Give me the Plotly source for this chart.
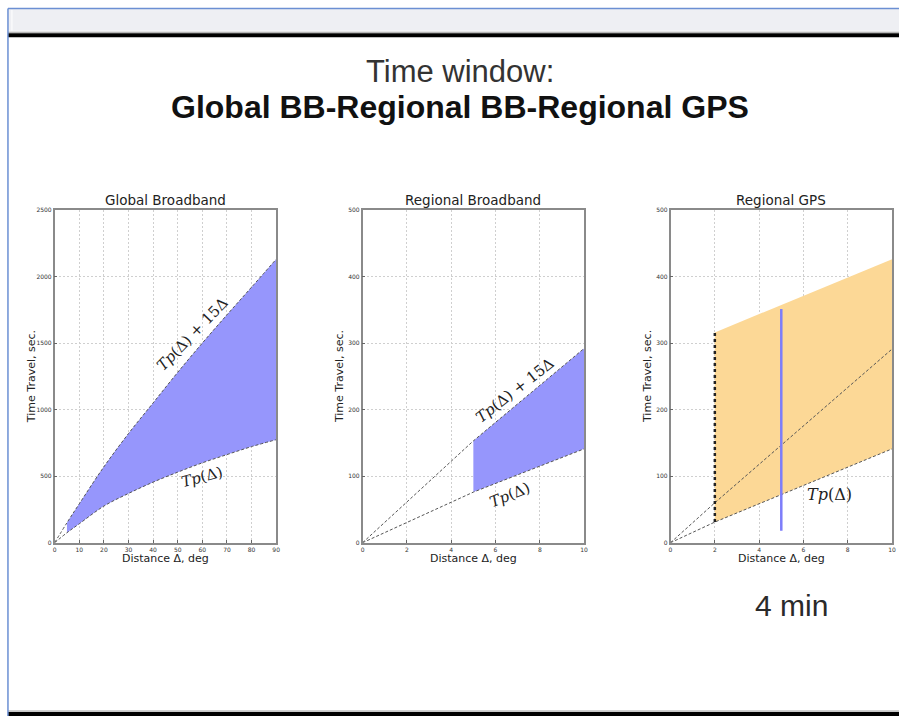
import plotly.graph_objects as go

W, H = 903, 719

# ---------------- data ----------------
# Global Broadband
gb_dist = [0, 5, 10, 20, 30, 40, 50, 60, 70, 80, 90]
gb_tp = [0, 75, 142, 275, 370, 455, 530, 600, 662, 722, 774]
gb_tp15 = [0, 150, 292, 570, 820, 1050, 1280, 1500, 1712, 1920, 2130]
gb_xticks = [0, 10, 20, 30, 40, 50, 60, 70, 80, 90]
gb_yticks = [0, 500, 1000, 1500, 2000, 2500]

# Regional Broadband
rb_dist = [0, 5, 10]
rb_tp = [0, 76, 141]
rb_tp15 = [0, 153, 292]
rb_xticks = [0, 2, 4, 6, 8, 10]
rb_yticks = [0, 100, 200, 300, 400, 500]

# Regional GPS
gps_dist = [0, 2, 10]
gps_tp = [0, 31, 141]
gps_tp15 = [0, 60, 291]
gps_win_dist = [2, 10]
gps_win_low = [31, 141]
gps_win_top = [316, 426]
gps_mark_dist = 5
gps_mark_range = [18, 351]

titles = ["Global Broadband", "Regional Broadband", "Regional GPS"]

# ---------------- layout helpers ----------------
def px(x):
    return x / W

def py(y):
    return 1 - y / H

dom_x = [(53, 276), (363, 586), (673, 896)]
dom_y = (208, 544)

BLUE_FILL = "rgb(150,150,252)"
ORANGE_FILL = "rgb(252,216,150)"
DASH = "3px,2px"

fig = go.Figure()

def ax(i):
    return ("x" if i == 0 else f"x{i+1}", "y" if i == 0 else f"y{i+1}")

# ---- Global Broadband ----
xa, ya = ax(0)
fig.add_trace(go.Scatter(x=gb_dist[1:], y=gb_tp[1:], mode="lines",
                         line=dict(width=0, shape="spline"), showlegend=False,
                         xaxis=xa, yaxis=ya, hoverinfo="skip"))
fig.add_trace(go.Scatter(x=gb_dist[1:], y=gb_tp15[1:], mode="lines", fill="tonexty",
                         fillcolor=BLUE_FILL, line=dict(width=0, shape="spline"),
                         showlegend=False, xaxis=xa, yaxis=ya, hoverinfo="skip"))
for ys in (gb_tp, gb_tp15):
    fig.add_trace(go.Scatter(x=gb_dist, y=ys, mode="lines",
                             line=dict(color="#555", width=1, dash=DASH, shape="spline"),
                             showlegend=False, xaxis=xa, yaxis=ya))

# ---- Regional Broadband ----
xa, ya = ax(1)
fig.add_trace(go.Scatter(x=rb_dist[1:] + rb_dist[1:][::-1],
                         y=rb_tp[1:] + rb_tp15[1:][::-1],
                         mode="lines", fill="toself", fillcolor=BLUE_FILL,
                         line=dict(width=0), showlegend=False, xaxis=xa, yaxis=ya,
                         hoverinfo="skip"))
for ys in (rb_tp, rb_tp15):
    fig.add_trace(go.Scatter(x=rb_dist, y=ys, mode="lines",
                             line=dict(color="#555", width=1, dash=DASH),
                             showlegend=False, xaxis=xa, yaxis=ya))

# ---- Regional GPS ----
xa, ya = ax(2)
fig.add_trace(go.Scatter(x=gps_win_dist + gps_win_dist[::-1],
                         y=gps_win_low + gps_win_top[::-1],
                         mode="lines", fill="toself", fillcolor=ORANGE_FILL,
                         line=dict(width=0), showlegend=False, xaxis=xa, yaxis=ya,
                         hoverinfo="skip"))
for ys in (gps_tp, gps_tp15):
    fig.add_trace(go.Scatter(x=gps_dist, y=ys, mode="lines",
                             line=dict(color="#555", width=1, dash=DASH),
                             showlegend=False, xaxis=xa, yaxis=ya))
fig.add_trace(go.Scatter(x=[gps_win_dist[0], gps_win_dist[0]],
                         y=[gps_win_low[0], gps_win_top[0]], mode="lines",
                         line=dict(color="#222", width=2.5, dash="dot"),
                         showlegend=False, xaxis=xa, yaxis=ya))
fig.add_trace(go.Scatter(x=[gps_mark_dist, gps_mark_dist], y=gps_mark_range,
                         mode="lines", line=dict(color="rgb(125,125,250)", width=2.5),
                         showlegend=False, xaxis=xa, yaxis=ya))

# ---------------- axes ----------------
ranges = [((0, 90), (0, 2500), gb_xticks, gb_yticks),
          ((0, 10), (0, 500), rb_xticks, rb_yticks),
          ((0, 10), (0, 500), rb_xticks, rb_yticks)]
layout = {}
for i, ((xr, yr, xt, yt), (x0, x1)) in enumerate(zip(ranges, dom_x)):
    sx = "" if i == 0 else str(i + 1)
    common = dict(showline=True, mirror=True, linecolor="#8a8a8a", linewidth=1.5,
                  showgrid=True, gridcolor="#cfcfcf", griddash="2px,2px", gridwidth=1,
                  zeroline=False, ticks="inside", ticklen=3, tickcolor="#666",
                  tickfont=dict(family="DejaVu Sans", size=6, color="#333"))
    layout["xaxis" + sx] = dict(domain=[px(x0), px(x1)], range=list(xr),
                                tickvals=xt, anchor="y" + sx, **common)
    layout["yaxis" + sx] = dict(domain=[py(dom_y[1]), py(dom_y[0])], range=list(yr),
                                tickvals=yt, anchor="x" + sx, **common)

def ann(x, y, text, font, xref="paper", yref="paper", angle=0):
    return dict(x=x, y=y, xref=xref, yref=yref, text=text, showarrow=False,
                xanchor="center", yanchor="middle", textangle=angle, font=font)

annotations = []
for i, (x0, x1) in enumerate(dom_x):
    cx = (x0 + x1) / 2
    annotations.append(ann(px(cx), py(198), titles[i],
                           dict(family="DejaVu Sans", size=13.5, color="#222")))
    annotations.append(ann(px(cx), py(560), "Distance Δ, deg",
                           dict(family="DejaVu Sans", size=11, color="#222")))
    annotations.append(ann(px(x0 - 23), py(376), "Time Travel, sec.",
                           dict(family="DejaVu Sans", size=11, color="#222"), angle=-90))

mathfont = dict(family="DejaVu Serif", size=15, color="#222")
label_up = "<i>Tp</i>(Δ) + 15Δ"
label_low = "<i>Tp</i>(Δ)"
annotations += [
    ann(56, 1570, label_up, mathfont, "x", "y", -46),
    ann(60, 491, label_low, mathfont, "x", "y", -15),
    ann(6.9, 229, label_up, mathfont, "x2", "y2", -38),
    ann(6.64, 71, label_low, mathfont, "x2", "y2", -22),
    ann(7.17, 73, label_low, dict(family="DejaVu Serif", size=16, color="#222"), "x3", "y3"),
    ann(px(461), py(68), "Time window:",
        dict(family="Liberation Sans", size=31, color="#333")),
    ann(px(461), py(104), "<b>Global BB-Regional BB-Regional GPS</b>",
        dict(family="Liberation Sans", size=32, color="#111")),
    ann(px(795), py(607), "4 min",
        dict(family="Liberation Sans", size=30, color="#2a2a2a")),
]

shapes = [
    # top window bar
    dict(type="rect", xref="paper", yref="paper", x0=px(6), x1=1, y0=py(27), y1=py(5),
         fillcolor="#eeeff3", line=dict(width=0), layer="below"),
    dict(type="line", xref="paper", yref="paper", x0=px(6), x1=1, y0=py(4.5), y1=py(4.5),
         line=dict(color="#6b8fd3", width=1.5)),
    dict(type="line", xref="paper", yref="paper", x0=px(10), x1=px(10), y0=py(27), y1=py(6),
         line=dict(color="#ffffff", width=1)),
    dict(type="rect", xref="paper", yref="paper", x0=px(6), x1=1, y0=py(33.5), y1=py(29.5),
         fillcolor="#000000", line=dict(width=0)),
    dict(type="line", xref="paper", yref="paper", x0=px(6), x1=1, y0=py(28.5), y1=py(28.5),
         line=dict(color="#9a9a9a", width=1)),
    # bottom bar
    dict(type="rect", xref="paper", yref="paper", x0=px(6), x1=1, y0=0, y1=py(715),
         fillcolor="#000000", line=dict(width=0)),
    dict(type="line", xref="paper", yref="paper", x0=px(6), x1=1, y0=py(714), y1=py(714),
         line=dict(color="#9a9a9a", width=1)),
    # left border
    dict(type="line", xref="paper", yref="paper", x0=px(6), x1=px(6), y0=0, y1=py(4.5),
         line=dict(color="#6b8fd3", width=1.5)),
]

fig.update_layout(width=W, height=H, margin=dict(l=0, r=0, t=0, b=0),
                  paper_bgcolor="white", plot_bgcolor="white",
                  annotations=annotations, shapes=shapes, showlegend=False,
                  **layout)

fig.write_html("out.html")
